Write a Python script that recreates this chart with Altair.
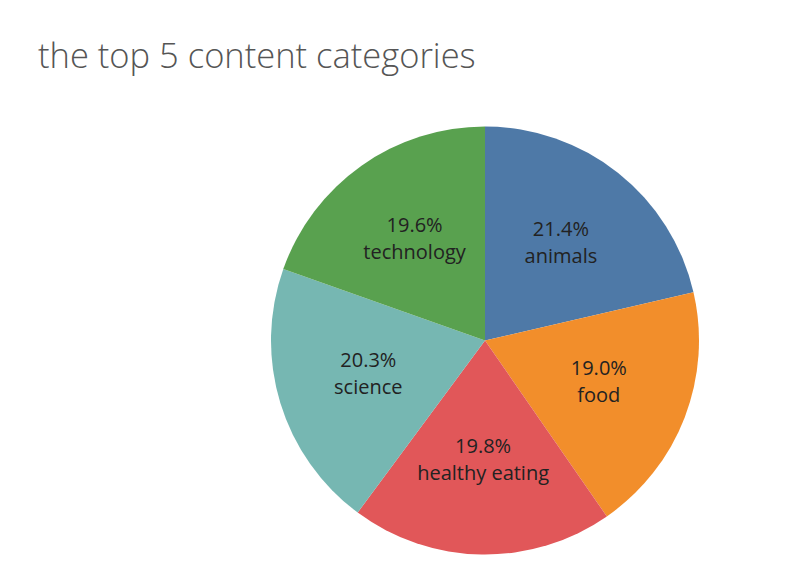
import altair as alt
import pandas as pd

categories = ["animals", "food", "healthy eating", "science", "technology"]
shares = [21.4, 19.0, 19.8, 20.3, 19.6]
colors = ["#4e79a7", "#f28e2b", "#e15759", "#76b7b2", "#59a14f"]

df = pd.DataFrame({
    "category": categories,
    "share": shares,
    "order": list(range(len(categories))),
})
df["label"] = [f"{s:.1f}%\n{c}" for s, c in zip(shares, categories)]

cx, cy = 477, 232.5

base = alt.Chart(df).encode(
    theta=alt.Theta("share:Q", stack=True),
    order=alt.Order("order:Q"),
)

arcs = base.mark_arc(outerRadius=214, stroke=None).encode(
    color=alt.Color("category:N", scale=alt.Scale(domain=categories, range=colors), legend=None),
    x=alt.value(cx),
    y=alt.value(cy),
)

labels = base.mark_text(
    radius=122,
    dy=-15,
    fontSize=20,
    font="Open Sans",
    color="#222222",
    lineBreak="\n",
    lineHeight=27,
    align="center",
    baseline="middle",
).encode(
    text="label:N",
    x=alt.value(cx),
    y=alt.value(cy),
)

chart = (arcs + labels).properties(
    width=771,
    height=467,
    padding={"top": 100, "left": 0, "right": 0, "bottom": 0},
    autosize=alt.AutoSizeParams(type="none"),
    title=alt.TitleParams(
        text="the top 5 content categories",
        anchor="start",
        frame="group",
        orient="top",
        baseline="alphabetic",
        offset=6,
        dx=30,
        fontSize=34.5,
        font="Open Sans",
        fontWeight=300,
        color="#555555",
    ),
).configure_view(stroke=None)

chart.save("out.html", embed_options={"renderer": "svg", "actions": False})
